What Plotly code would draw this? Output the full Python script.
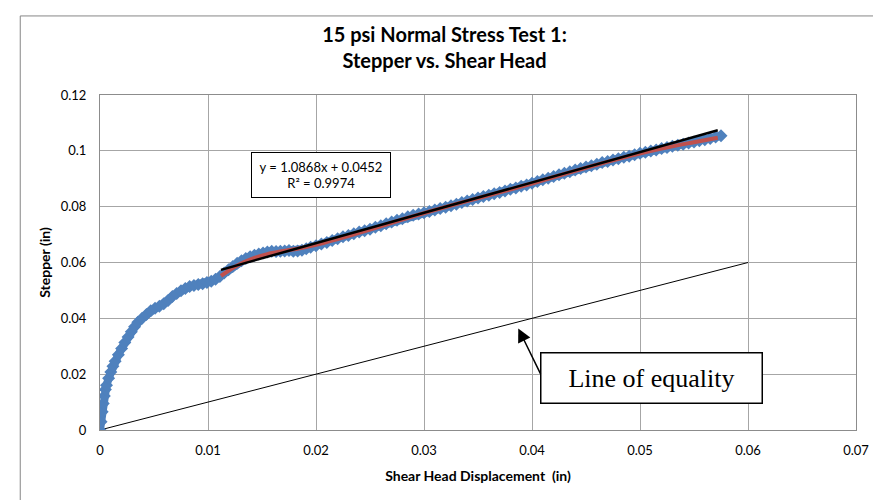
import plotly.graph_objects as go

# shear head displacement (in) vs stepper (in)
shear_x = [0.0000, 0.0001, 0.0002, 0.0003, 0.0004, 0.0005, 0.0006, 0.0008, 0.0010, 0.0012,
           0.0014, 0.0017, 0.0020, 0.0023, 0.0026, 0.0029, 0.0032, 0.0035, 0.0039, 0.0043,
           0.0047, 0.0051, 0.0055, 0.0059, 0.0063, 0.0067, 0.0071, 0.0075, 0.0079, 0.0083,
           0.0087, 0.0091, 0.0095, 0.0099, 0.0103, 0.0107, 0.0111, 0.0115, 0.0119, 0.0123,
           0.0127, 0.0131, 0.0135, 0.0139, 0.0143, 0.0147, 0.0151, 0.0155, 0.0159, 0.0163,
           0.0167, 0.0171, 0.0175, 0.0179, 0.0183, 0.0187, 0.0191, 0.0195, 0.0200, 0.0205,
           0.0210, 0.0215, 0.0220, 0.0225, 0.0230, 0.0235, 0.0240, 0.0245, 0.0250, 0.0255,
           0.0260, 0.0265, 0.0270, 0.0275, 0.0280, 0.0285, 0.0290, 0.0295, 0.0300, 0.0305,
           0.0310, 0.0315, 0.0320, 0.0325, 0.0330, 0.0335, 0.0340, 0.0345, 0.0350, 0.0355,
           0.0360, 0.0365, 0.0370, 0.0375, 0.0380, 0.0385, 0.0390, 0.0395, 0.0400, 0.0405,
           0.0410, 0.0415, 0.0420, 0.0425, 0.0430, 0.0435, 0.0440, 0.0445, 0.0450, 0.0455,
           0.0460, 0.0465, 0.0470, 0.0475, 0.0480, 0.0485, 0.0490, 0.0495, 0.0500, 0.0505,
           0.0510, 0.0515, 0.0520, 0.0525, 0.0530, 0.0535, 0.0540, 0.0545, 0.0550, 0.0555,
           0.0560, 0.0565, 0.0570, 0.0575]
stepper_y = [0.0000, 0.0030, 0.0065, 0.0095, 0.0122, 0.0145, 0.0160, 0.0185, 0.0208, 0.0228,
             0.0246, 0.0270, 0.0292, 0.0313, 0.0333, 0.0352, 0.0370, 0.0386, 0.0400, 0.0414,
             0.0427, 0.0436, 0.0443, 0.0452, 0.0464, 0.0478, 0.0489, 0.0499, 0.0507, 0.0514,
             0.0518, 0.0521, 0.0524, 0.0528, 0.0533, 0.0540, 0.0550, 0.0562, 0.0574, 0.0586,
             0.0597, 0.0606, 0.0614, 0.0621, 0.0626, 0.0630, 0.0634, 0.0638, 0.0640, 0.0639,
             0.0640, 0.0641, 0.0643, 0.0640, 0.0641, 0.0644, 0.0649, 0.0655, 0.0660, 0.0666,
             0.0672, 0.0679, 0.0685, 0.0692, 0.0697, 0.0703, 0.0709, 0.0714, 0.0719, 0.0726,
             0.0732, 0.0739, 0.0745, 0.0751, 0.0757, 0.0764, 0.0769, 0.0774, 0.0778, 0.0783,
             0.0788, 0.0793, 0.0798, 0.0803, 0.0809, 0.0815, 0.0820, 0.0826, 0.0831, 0.0836,
             0.0841, 0.0846, 0.0851, 0.0856, 0.0862, 0.0867, 0.0873, 0.0878, 0.0884, 0.0890,
             0.0896, 0.0902, 0.0908, 0.0914, 0.0920, 0.0925, 0.0931, 0.0937, 0.0942, 0.0947,
             0.0952, 0.0958, 0.0962, 0.0967, 0.0972, 0.0977, 0.0981, 0.0986, 0.0991, 0.0995,
             0.0999, 0.1003, 0.1008, 0.1012, 0.1016, 0.1020, 0.1024, 0.1028, 0.1032, 0.1036,
             0.1040, 0.1044, 0.1050, 0.1054]

# red smoothed trend
smooth_x = [0.0112, 0.0125, 0.0140, 0.0155, 0.0170, 0.0185, 0.0200, 0.0220, 0.0250, 0.0280,
            0.0310, 0.0340, 0.0370, 0.0400, 0.0430, 0.0460, 0.0490, 0.0520, 0.0550, 0.0572]
smooth_y = [0.0552, 0.0585, 0.0612, 0.0630, 0.0641, 0.0651, 0.0663, 0.0684, 0.0718, 0.0754,
            0.0788, 0.0820, 0.0851, 0.0883, 0.0917, 0.0950, 0.0981, 0.1008, 0.1031, 0.1047]

# linear fit y = 1.0868x + 0.0452
slope, intercept = 1.0868, 0.0452
fit_x = [0.0112, 0.0572]
fit_y = [slope * v + intercept for v in fit_x]

# line of equality
eq_x = [0, 0.06]
eq_y = [0, 0.06]

x_ticks = [0, 0.01, 0.02, 0.03, 0.04, 0.05, 0.06, 0.07]
x_labels = ["0", "0.01", "0.02", "0.03", "0.04", "0.05", "0.06", "0.07"]
y_ticks = [0, 0.02, 0.04, 0.06, 0.08, 0.1, 0.12]
y_labels = ["0", "0.02", "0.04", "0.06", "0.08", "0.1", "0.12"]

font = "Lato, Open Sans, sans-serif"
blue = "#4F81BD"
grid = "#A6A6A6"

fig = go.Figure()
fig.add_trace(go.Scatter(x=eq_x, y=eq_y, mode="lines",
                         line=dict(color="black", width=1), hoverinfo="skip"))
fig.add_trace(go.Scatter(x=shear_x, y=stepper_y, mode="lines+markers",
                         line=dict(color=blue, width=8),
                         marker=dict(symbol="diamond", size=10, color=blue)))
fig.add_trace(go.Scatter(x=smooth_x, y=smooth_y, mode="lines", line_shape="spline",
                         line=dict(color="#C0504D", width=4)))
fig.add_trace(go.Scatter(x=fit_x, y=fit_y, mode="lines",
                         line=dict(color="black", width=2.5)))

# page body has an 8px margin, so the figure is sized to the visible area
fig.update_layout(
    width=873, height=492,
    margin=dict(l=92, r=22, t=87, b=70),
    paper_bgcolor="white", plot_bgcolor="white",
    showlegend=False,
    font=dict(family=font, size=13, color="black"),
    title=dict(text="<b>15 psi Normal Stress Test 1:<br>Stepper vs. Shear Head</b>",
               x=0.5, xanchor="center", y=0.93, yanchor="top",
               font=dict(family=font, size=20)),
    xaxis=dict(range=[0, 0.07], tickvals=x_ticks, ticktext=x_labels,
               showgrid=True, gridcolor=grid, gridwidth=1,
               showline=True, linecolor="#8C8C8C", mirror=True, zeroline=False,
               ticks="", ticklabelstandoff=8,
               title=dict(text="<b>Shear Head Displacement  (in)</b>",
                          font=dict(size=14), standoff=14)),
    yaxis=dict(range=[0, 0.12], tickvals=y_ticks, ticktext=y_labels,
               showgrid=True, gridcolor=grid, gridwidth=1,
               showline=True, linecolor="#8C8C8C", mirror=True, zeroline=False,
               ticks="", ticklabelstandoff=10,
               title=dict(text="<b>Stepper (in)</b>", font=dict(size=14), standoff=6)),
)

# chart area border
fig.add_shape(type="rect", xref="paper", yref="paper",
              x0=-0.1055, y0=-0.4, x1=1.2, y1=1.236,
              line=dict(color="#868686", width=1))

fig.add_annotation(x=0.02047, y=0.0912, xref="x", yref="y", showarrow=False,
                   text="y = 1.0868x + 0.0452<br>R² = 0.9974",
                   font=dict(family=font, size=13), align="center",
                   bgcolor="white", bordercolor="black", borderwidth=1,
                   width=136, height=42, borderpad=1)

fig.add_annotation(x=0.0511, y=0.0188, xref="x", yref="y", showarrow=False,
                   text="Line of equality",
                   font=dict(family="Liberation Serif, serif", size=26),
                   bgcolor="white", bordercolor="black", borderwidth=1.5,
                   width=218, height=47, borderpad=1)

fig.add_annotation(x=0.03873, y=0.0364, xref="x", yref="y", text="",
                   showarrow=True, ax=23, ay=47, arrowhead=2, arrowsize=1.8,
                   arrowwidth=1.5, arrowcolor="black")

fig.write_html("out.html")
